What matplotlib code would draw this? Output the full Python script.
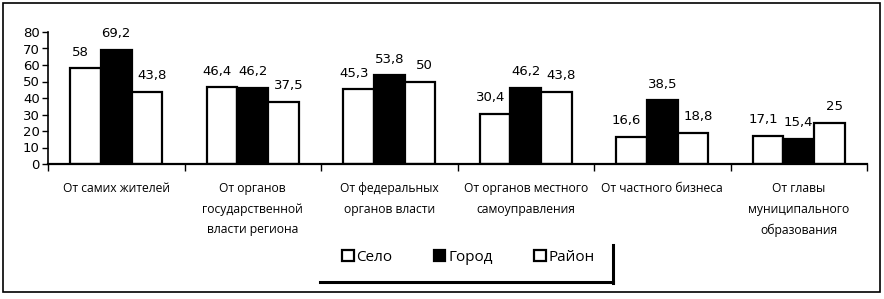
import numpy as np
import matplotlib
matplotlib.use("Agg")
import matplotlib.pyplot as plt
from matplotlib.patches import Patch, Rectangle
from matplotlib.lines import Line2D

categories = [
    "От самих жителей",
    "От органов\nгосударственной\nвласти региона",
    "От федеральных\nорганов власти",
    "От органов местного\nсамоуправления",
    "От частного бизнеса",
    "От главы\nмуниципального\nобразования",
]
series_names = ["Село", "Город", "Район"]
selo = [58, 46.4, 45.3, 30.4, 16.6, 17.1]
gorod = [69.2, 46.2, 53.8, 46.2, 38.5, 15.4]
raion = [43.8, 37.5, 50, 43.8, 18.8, 25]
y_ticks = [0, 10, 20, 30, 40, 50, 60, 70, 80]

plt.rcParams["font.family"] = ["DejaVu Sans"]


def fmt(v):
    s = f"{v:g}"
    return s.replace(".", ",")


fig = plt.figure(figsize=(8.84, 2.99), dpi=100)
ax = fig.add_axes([48 / 884, 1 - 164 / 299, (867 - 48) / 884, (164 - 32) / 299])

x = np.arange(len(categories)) + 0.5
w = 0.225
faces = ["white", "black", "white"]
label_dx = [-3.5, 0, 3.5]  # Excel nudges the outer labels apart
for i, (vals, fc) in enumerate(zip([selo, gorod, raion], faces)):
    xs = x + (i - 1) * w
    ax.bar(xs, vals, width=w, color=fc, edgecolor="black",
           linewidth=1.6, zorder=2)
    for xx, v in zip(xs, vals):
        ax.annotate(fmt(v), (xx, v), xytext=(label_dx[i], 7),
                    textcoords="offset points",
                    ha="center", va="bottom", fontsize=9.5)

ax.set_xlim(0, len(categories))
ax.set_ylim(0, 80)
ax.set_yticks(y_ticks)
ax.tick_params(axis="y", labelsize=9.5, length=4, width=1, pad=2)

# category boundaries as ticks, names at centers
ax.set_xticks(np.arange(len(categories) + 1))
ax.set_xticklabels([])
ax.tick_params(axis="x", which="major", length=5, width=1, direction="out")
ax.set_xticks(x, minor=True)
ax.set_xticklabels(categories, minor=True, fontsize=8.7,
                   family=["Open Sans", "DejaVu Sans"], linespacing=1.75,
                   va="top")
ax.tick_params(axis="x", which="minor", length=0, pad=13)

for s in ("top", "right"):
    ax.spines[s].set_visible(False)
ax.spines["left"].set_linewidth(1.2)
ax.spines["bottom"].set_linewidth(1.6)

handles = [Patch(facecolor=fc, edgecolor="black", linewidth=1.6) for fc in faces]
fig.legend(handles, series_names, loc="center", bbox_to_anchor=(0.53, 0.14),
           ncol=3, frameon=False, handlelength=0.75, handleheight=0.75,
           handletextpad=0.2, columnspacing=2.7,
           prop={"family": ["Open Sans", "DejaVu Sans"], "size": 11})

# legend shadow border (bottom and right)
fig.add_artist(Line2D([320 / 884, 613 / 884], [1 - 282 / 299, 1 - 282 / 299],
                      color="black", linewidth=2.2))
fig.add_artist(Line2D([613 / 884, 613 / 884], [1 - 245 / 299, 1 - 283 / 299],
                      color="black", linewidth=2.2))

# outer chart frame
fig.add_artist(Rectangle((3 / 884, 1 - 292 / 299), 877 / 884, 289 / 299,
                         transform=fig.transFigure, fill=False,
                         edgecolor="black", linewidth=1.2))

fig.savefig("out.png", dpi=100, facecolor="white")
